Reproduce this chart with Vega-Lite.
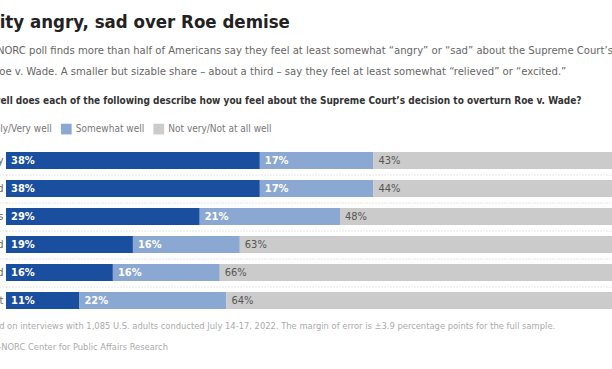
{
  "$schema": "https://vega.github.io/schema/vega-lite/v6.json",
  "width": 606,
  "height": 168,
  "autosize": {"type": "none"},
  "padding": {"left": 6, "top": 146.5, "right": 0, "bottom": 54.5},
  "background": "white",
  "config": {"font": "'DejaVu Sans Condensed', 'DejaVu Sans', sans-serif", "view": {"stroke": null}},
  "title": {
    "text": "Majority angry, sad over Roe demise",
    "subtitle": [
      "A new AP-NORC poll finds more than half of Americans say they feel at least somewhat “angry” or “sad” about the Supreme Court’s decision to",
      "overturn Roe v. Wade. A smaller but sizable share – about a third – say they feel at least somewhat “relieved” or “excited.”"
    ],
    "anchor": "start",
    "frame": "group",
    "dx": -59.5,
    "font": "'DejaVu Sans Condensed', 'DejaVu Sans', sans-serif",
    "fontSize": 18.5,
    "fontWeight": "bold",
    "color": "#222222",
    "subtitleFont": "'DejaVu Sans Condensed', 'DejaVu Sans', sans-serif",
    "subtitleFontSize": 11.2,
    "subtitleColor": "#666666",
    "subtitleLineHeight": 21,
    "subtitlePadding": 13,
    "offset": 18
  },
  "data": {
    "values": [
      {"item": "Angry", "resp": "Extremely/Very well", "rank": 1, "value": 0.38},
      {"item": "Angry", "resp": "Somewhat well", "rank": 2, "value": 0.17},
      {"item": "Angry", "resp": "Not very/Not at all well", "rank": 3, "value": 0.43},
      {"item": "Sad", "resp": "Extremely/Very well", "rank": 1, "value": 0.38},
      {"item": "Sad", "resp": "Somewhat well", "rank": 2, "value": 0.17},
      {"item": "Sad", "resp": "Not very/Not at all well", "rank": 3, "value": 0.44},
      {"item": "Anxious", "resp": "Extremely/Very well", "rank": 1, "value": 0.29},
      {"item": "Anxious", "resp": "Somewhat well", "rank": 2, "value": 0.21},
      {"item": "Anxious", "resp": "Not very/Not at all well", "rank": 3, "value": 0.48},
      {"item": "Relieved", "resp": "Extremely/Very well", "rank": 1, "value": 0.19},
      {"item": "Relieved", "resp": "Somewhat well", "rank": 2, "value": 0.16},
      {"item": "Relieved", "resp": "Not very/Not at all well", "rank": 3, "value": 0.63},
      {"item": "Excited", "resp": "Extremely/Very well", "rank": 1, "value": 0.16},
      {"item": "Excited", "resp": "Somewhat well", "rank": 2, "value": 0.16},
      {"item": "Excited", "resp": "Not very/Not at all well", "rank": 3, "value": 0.66},
      {"item": "Indifferent", "resp": "Extremely/Very well", "rank": 1, "value": 0.11},
      {"item": "Indifferent", "resp": "Somewhat well", "rank": 2, "value": 0.22},
      {"item": "Indifferent", "resp": "Not very/Not at all well", "rank": 3, "value": 0.64}
    ]
  },
  "transform": [
    {"stack": "value", "groupby": ["item"], "sort": [{"field": "rank", "order": "ascending"}], "as": ["x0", "x1"]}
  ],
  "encoding": {
    "y": {
      "field": "item",
      "type": "nominal",
      "sort": ["Angry", "Sad", "Anxious", "Relieved", "Excited", "Indifferent"],
      "scale": {"paddingInner": 0.393, "paddingOuter": 0.1965},
      "axis": {
        "title": "How well does each of the following describe how you feel about the Supreme Court’s decision to overturn Roe v. Wade?",
        "titleAngle": 0,
        "titleX": -39.5,
        "titleY": -46.5,
        "titleAlign": "left",
        "titleBaseline": "middle",
        "titleFontSize": 10,
        "titleFontWeight": "bold",
        "titleColor": "#333333",
        "domain": false,
        "ticks": true,
        "tickSize": 10,
        "tickColor": "#c8c8c8",
        "tickDash": [1, 2],
        "tickOffset": -14,
        "bandPosition": 0.5,
        "tickOpacity": {"condition": {"test": "datum.value === 'Angry'", "value": 0}, "value": 1},
        "grid": true,
        "gridColor": "#c8c8c8",
        "gridDash": [1, 2],
        "gridOpacity": {"condition": {"test": "datum.value === 'Angry'", "value": 0}, "value": 1},
        "labelOffset": 14,
        "labelPadding": -7,
        "labelFontSize": 11,
        "labelColor": "#666666",
        "labelAlign": "right"
      }
    },
    "x": {
      "field": "x0",
      "type": "quantitative",
      "scale": {"domain": [0, 0.9072], "nice": false, "zero": true},
      "axis": {
        "title": [
          "Note: Based on interviews with 1,085 U.S. adults conducted July 14-17, 2022. The margin of error is ±3.9 percentage points for the full sample.",
          "Source: AP-NORC Center for Public Affairs Research"
        ],
        "labels": false,
        "ticks": false,
        "domain": false,
        "grid": false,
        "titleX": -53,
        "titleY": 6.5,
        "titleAlign": "left",
        "titleAnchor": "start",
        "titleBaseline": "top",
        "titleFontSize": 9.3,
        "titleFontWeight": "normal",
        "titleColor": "#aaaaaa",
        "titleLineHeight": 21
      }
    }
  },
  "layer": [
    {
      "mark": {"type": "bar", "clip": true},
      "encoding": {
        "x2": {"field": "x1"},
        "color": {
          "field": "resp",
          "type": "nominal",
          "scale": {
            "domain": ["Extremely/Very well", "Somewhat well", "Not very/Not at all well"],
            "range": ["#1a4fa0", "#8ba8d3", "#cbcbcb"]
          },
          "legend": {
            "orient": "none",
            "legendX": -58.7,
            "legendY": -23,
            "direction": "horizontal",
            "title": null,
            "symbolType": "square",
            "symbolSize": 115,
            "symbolStrokeWidth": 0,
            "labelFontSize": 10,
            "labelColor": "#777777",
            "labelOffset": 4,
            "columnPadding": 8.5
          }
        }
      }
    },
    {
      "transform": [{"filter": "datum.rank < 3"}],
      "mark": {"type": "text", "align": "left", "baseline": "middle", "dx": 5, "color": "white", "fontSize": 11, "fontWeight": "bold"},
      "encoding": {"text": {"field": "value", "type": "quantitative", "format": ".0%"}}
    },
    {
      "transform": [{"filter": "datum.rank === 3"}],
      "mark": {"type": "text", "align": "left", "baseline": "middle", "dx": 5, "color": "#555555", "fontSize": 11},
      "encoding": {"text": {"field": "value", "type": "quantitative", "format": ".0%"}}
    }
  ]
}
